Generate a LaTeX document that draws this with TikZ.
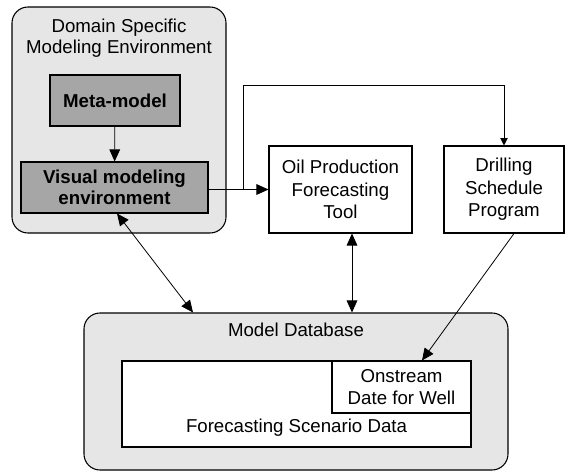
\documentclass[tikz,border=0pt]{standalone}
\usepackage{fontspec}
\setmainfont{Liberation Sans}
\usepackage{tikz}
\usetikzlibrary{arrows.meta}
\definecolor{panelgray}{RGB}{230,230,230}
\definecolor{modelgray}{RGB}{166,166,166}

\begin{document}
\begin{tikzpicture}[x=0.75pt,y=-0.75pt,
  panel/.style={draw,line width=0.8pt,fill=panelgray,rounded corners=12pt,inner sep=0pt},
  box/.style={draw,line width=0.8pt,fill=white,inner sep=0pt,align=center,font=\fontsize{14}{17}\selectfont},
  modelbox/.style={box,fill=modelgray,font=\fontsize{14}{16}\selectfont\bfseries},
  paneltitle/.style={inner sep=0pt,align=center,font=\fontsize{14}{16}\selectfont},
  link/.style={line width=0.6pt,-{Triangle[length=9pt,width=8pt]}},
  dlink/.style={line width=0.6pt,{Triangle[length=9pt,width=8pt]}-{Triangle[length=9pt,width=8pt]}}]
\useasboundingbox (0,0) rectangle (565,471);
\node[panel,minimum width=160.5pt,minimum height=169.5pt] (dsme) at (119,120) {};
\node[paneltitle] (dsmetitle) at (119,38) {Domain Specific\\Modeling Environment};
\node[modelbox,minimum width=97.5pt,minimum height=38.25pt] (meta) at (115,100.5) {Meta-model};
\node[modelbox,minimum width=140.25pt,minimum height=38.25pt] (visual) at (114.5,187.5) {Visual modeling\\environment};
\node[box,minimum width=107.25pt,minimum height=65.25pt] (oil) at (340.5,189.5) {Oil Production\\Forecasting\\Tool};
\node[box,minimum width=90pt,minimum height=65.25pt] (drill) at (504,189.5) {Drilling\\Schedule\\Program};
\node[panel,minimum width=318pt,minimum height=117.75pt] (db) at (296,391.5) {};
\node[paneltitle] (dbtitle) at (296,330) {Model Database};
\node[box,minimum width=261.75pt,minimum height=64.5pt] (scenario) at (296.5,404) {};
\node[paneltitle] (scenariotitle) at (296.5,428) {Forecasting Scenario Data};
\node[box,minimum width=104.25pt,minimum height=39pt] (onstream) at (401.5,387) {Onstream\\Date for Well};
\coordinate (split) at (243,189.5);
\coordinate (over) at (243,85);
\draw[link] (meta) -- (visual);
\draw[link] (oil.west -| visual.east) -- (oil.west);
\draw[line width=0.6pt,-{Triangle[length=5.5pt,width=5.5pt]}] (split) -- (over) -| (drill.north);
\draw[dlink] (visual.south -| 117,0) -- (db.north -| 193,0);
\draw[dlink] (oil.south -| 352,0) -- (db.north -| 352,0);
\draw[link] (drill.south -| 514,0) -- (onstream.north -| 422,0);
\end{tikzpicture}
\end{document}
